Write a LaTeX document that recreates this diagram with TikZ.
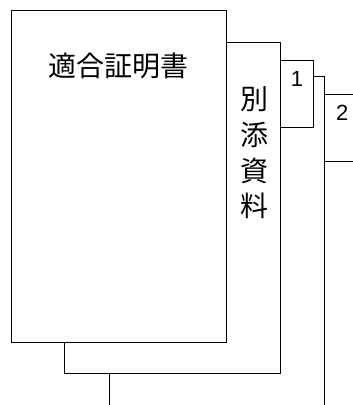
\documentclass[tikz,border=0pt]{standalone}
\usepackage{fontspec}
\setmainfont{Liberation Sans}
\newfontfamily\cjk{Noto Sans CJK JP}

\begin{document}
\begin{tikzpicture}[x=1pt,y=1pt,
    sheet/.style={rectangle,draw,fill=white,line width=1.1pt,minimum width=215.5pt,minimum height=331.5pt,inner sep=0pt},
    tab/.style={rectangle,draw,fill=white,line width=1.1pt,minimum width=52pt,minimum height=67pt,inner sep=0pt},
    jp_text/.style={font=\cjk\fontsize{28}{35.8}\selectfont,inner sep=0pt,align=center},
    num_text/.style={font=\fontsize{22}{26}\selectfont,inner sep=0pt}]

    \clip (0,0) rectangle (353,405);
    \node[tab] (tab2) at (331.3,277.3) {};
    \node[sheet] (sheetB) at (216.85,162.5) {};
    \node[tab] (tab1) at (287.3,310.8) {};
    \node[sheet] (sheetA) at (172.65,197) {};
    \node[sheet] (main) at (118.85,228.5) {};

    \node[jp_text] (title) at (118.85,339.3) {適合証明書};
    \node[jp_text] (annex) at (254,252.2) {別\\添\\資\\料};
    \node[num_text] (one) at (297,326.2) {1};
    \node[num_text] (two) at (342.2,292.2) {2};
\end{tikzpicture}
\end{document}
